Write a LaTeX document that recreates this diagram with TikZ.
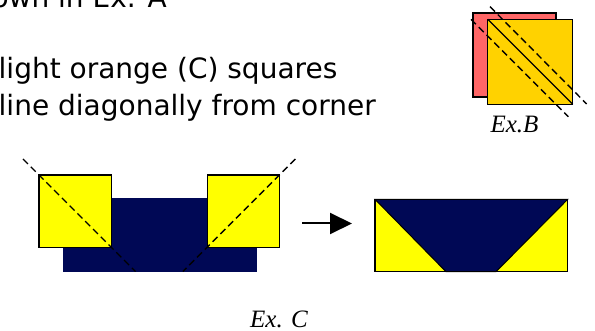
\documentclass[tikz,border=0pt]{standalone}
\usepackage{fontspec}
\setmainfont{DejaVu Sans}
\newfontfamily\exserif{Liberation Serif}
\usetikzlibrary{arrows.meta}

\definecolor{exnavy}{RGB}{0,8,85}
\definecolor{exyellow}{RGB}{255,255,0}
\definecolor{exgold}{RGB}{255,210,0}
\definecolor{exred}{RGB}{255,102,102}

\tikzset{
	sqbox/.style={draw=black, line width=1.4pt},
	cutline/.style={dash pattern=on 7pt off 4pt, line width=1.4pt},
	exlabel/.style={font=\exserif\itshape\fontsize{25}{25}\selectfont, inner sep=0pt, anchor=base},
	bodytext/.style={font=\fontsize{28}{28}\selectfont, inner sep=0pt, anchor=base west},
}

\begin{document}
\begin{tikzpicture}[x=1pt,y=1pt]
		\clip (0,-331) rectangle (595,0);

		% Textzeilen (links und oben angeschnitten)
		\node[bodytext, anchor=base east] (lineA) at (167,-8) {own in Ex. A};
		\node[bodytext] (lineB) at (-1.5,-79) {light orange (C) squares};
		\node[bodytext] (lineC) at (-1.5,-116) {line diagonally from corner};

		% Ex.B: zwei versetzte Quadrate mit Schnittlinien
		\filldraw[sqbox, fill=exred]  (473,-13) rectangle (556,-97);
		\filldraw[sqbox, fill=exgold] (487.7,-19.3) rectangle (572.7,-104.3);
		\draw[line width=1.2pt] (487.7,-19.3) -- (572.7,-104.3);
		\draw[cutline] (490,-6.7) -- (586.7,-104);
		\draw[cutline] (471,-19.3) -- (568.3,-116.7);
		\node[exlabel] (labB) at (514.5,-132.5) {Ex.B};

		% Ex. C links: Balken mit zwei Quadraten, diagonal geschnitten
		\fill[exnavy] (62.7,-198.3) rectangle (256.7,-272.3);
		\filldraw[sqbox, fill=exyellow] (39,-175) rectangle (111.7,-247.7);
		\filldraw[sqbox, fill=exyellow] (207.3,-175) rectangle (279.3,-247.7);
		\draw[cutline] (23,-159) -- (135.5,-271.5);
		\draw[cutline] (295.3,-159) -- (182.8,-271.5);

		% Pfeil
		\coordinate (arrA) at (302,-223.5);
		\coordinate (arrB) at (352,-223.5);
		\draw[line width=2pt, -{Triangle[length=22pt,width=21pt]}] (arrA) -- (arrB);

		% Ex. C rechts: Ergebnis
		\fill[exyellow] (375,-199.3) rectangle (567.7,-271.7);
		\filldraw[fill=exnavy, draw=black, line width=1pt] (375,-199.3) -- (446,-271.7) -- (496,-271.7) -- (567.7,-199.3) -- cycle;
		\draw[sqbox] (375,-199.3) rectangle (567.7,-271.7);
		\node[exlabel] (labC) at (279,-327) {Ex. C};
	\end{tikzpicture}
\end{document}
